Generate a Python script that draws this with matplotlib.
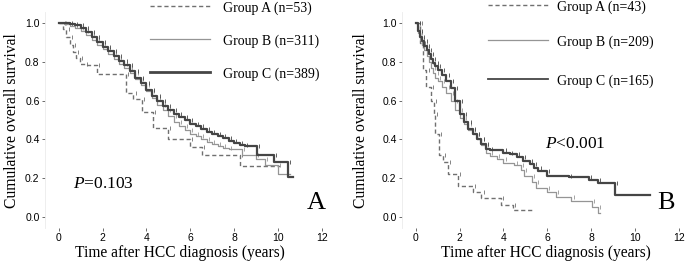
import numpy as np
import matplotlib
matplotlib.use("Agg")
import matplotlib.pyplot as plt

# ---- panel A (step curves) ----
a_t = [0, 0.2, 0.35, 0.5, 0.65, 0.8, 0.95, 1.2, 1.73, 3.07, 3.41, 3.79, 4.3, 5.0, 5.99, 6.52, 8.27]
a_s = [1.0, 0.97, 0.93, 0.89, 0.85, 0.82, 0.79, 0.785, 0.74, 0.64, 0.61, 0.54, 0.46, 0.40, 0.36, 0.32, 0.26]
a_end = 10.1

b_t = [0, 0.25, 0.5, 0.75, 1.0, 1.25, 1.5, 1.75, 2.0, 2.25, 2.5, 2.75, 3.0, 3.25, 3.5, 3.75,
       4.0, 4.25, 4.5, 4.75, 5.0, 5.25, 5.5, 5.75, 6.0, 6.25, 6.5, 6.75, 7.0, 7.25, 7.5, 7.75,
       8.35, 9.0, 9.4, 10.0]
b_s = [1.0, 0.995, 0.985, 0.975, 0.96, 0.94, 0.915, 0.89, 0.865, 0.84, 0.815, 0.79, 0.77, 0.745, 0.71, 0.68,
       0.65, 0.615, 0.58, 0.55, 0.52, 0.49, 0.47, 0.45, 0.43, 0.415, 0.40, 0.385, 0.375, 0.365, 0.355, 0.35,
       0.32, 0.30, 0.27, 0.22]
b_end = 10.55

c_t = [0, 0.5, 0.75, 1.0, 1.25, 1.5, 1.75, 2.0, 2.25, 2.5, 2.75, 3.0, 3.25, 3.5, 3.75,
       4.0, 4.25, 4.5, 4.75, 5.0, 5.25, 5.5, 5.75, 6.0, 6.25, 6.5, 6.75, 7.0, 7.25, 7.5, 7.75,
       8.0, 8.25, 8.5, 9.03, 9.8, 10.45]
c_s = [1.0, 0.995, 0.99, 0.975, 0.955, 0.93, 0.905, 0.88, 0.855, 0.83, 0.805, 0.785, 0.755, 0.72, 0.69,
       0.655, 0.625, 0.60, 0.575, 0.55, 0.53, 0.515, 0.50, 0.48, 0.468, 0.455, 0.44, 0.43, 0.415, 0.405, 0.39,
       0.38, 0.372, 0.365, 0.32, 0.285, 0.207]
c_end = 10.7

# ---- panel B ----
a2_t = [0, 0.18, 0.33, 0.49, 0.68, 0.84, 0.87, 1.05, 1.25, 1.47, 1.93, 2.6, 3.0, 3.9, 4.45]
a2_s = [1.0, 0.90, 0.76, 0.67, 0.60, 0.53, 0.43, 0.32, 0.285, 0.22, 0.16, 0.13, 0.095, 0.06, 0.035]
a2_end = 5.35

b2_t = [0, 0.1, 0.2, 0.3, 0.4, 0.5, 0.6, 0.7, 0.8, 0.9, 1.0, 1.2, 1.4, 1.6, 1.8, 2.0, 2.2, 2.4,
        2.6, 2.8, 3.0, 3.2, 3.4, 3.7, 4.0, 4.5, 4.8, 4.95, 5.3, 5.5, 6.0, 6.4, 7.1, 8.05, 8.3]
b2_s = [1.0, 0.95, 0.92, 0.89, 0.86, 0.83, 0.80, 0.77, 0.745, 0.72, 0.70, 0.67, 0.64, 0.60, 0.55, 0.51, 0.48, 0.45,
        0.43, 0.40, 0.37, 0.33, 0.315, 0.30, 0.28, 0.265, 0.24, 0.21, 0.18, 0.15, 0.13, 0.10, 0.08, 0.05, 0.02]
b2_end = 8.4

c2_t = [0, 0.1, 0.2, 0.3, 0.4, 0.5, 0.6, 0.7, 0.8, 0.9, 1.0, 1.2, 1.4, 1.6, 1.8, 2.0, 2.2, 2.4,
        2.6, 2.8, 3.0, 3.2, 3.4, 4.0, 4.3, 4.6, 4.9, 5.2, 5.4, 5.6, 6.0, 7.0, 7.9, 8.3, 9.07]
c2_s = [1.0, 0.96, 0.93, 0.91, 0.885, 0.86, 0.84, 0.815, 0.795, 0.78, 0.76, 0.735, 0.70, 0.665, 0.60, 0.53, 0.49, 0.455,
        0.43, 0.40, 0.375, 0.35, 0.345, 0.33, 0.325, 0.31, 0.29, 0.275, 0.25, 0.235, 0.21, 0.205, 0.19, 0.175, 0.112]
c2_end = 10.7

labels_a = ["Group A (n=53)", "Group B (n=311)", "Group C (n=389)"]
labels_b = ["Group A (n=43)", "Group B (n=209)", "Group C (n=165)"]

plt.rcParams['font.family'] = ['Liberation Serif', 'DejaVu Serif']
plt.rcParams['mathtext.fontset'] = 'custom'
plt.rcParams['mathtext.rm'] = 'Liberation Serif'
plt.rcParams['mathtext.it'] = 'Liberation Serif:italic'

W, H = 696, 264
fig = plt.figure(figsize=(W / 100, H / 100), dpi=100)


def fx(px):
    return px / W


def fy(py):
    return (H - py) / H


def make_ax(x0px, xlab_cx, ylab_cx):
    # t=0 at x0px, 21.92 px per year; S=0 at 216.7px, 193.3 px per unit
    ppy, ppu = 21.92, 193.3
    xl, xr = -0.62, 12.6
    yb, yt = -0.058, 1.06
    left = (x0px + xl * ppy) / W
    width = (xr - xl) * ppy / W
    bottom = (H - (216.7 - yb * ppu)) / H
    height = (yt - yb) * ppu / H
    ax = fig.add_axes([left, bottom, width, height])
    ax.set_xlim(xl, xr)
    ax.set_ylim(yb, yt)
    for s in ['top', 'right', 'bottom']:
        ax.spines[s].set_visible(False)
    ax.spines['left'].set_color('#ebebeb')
    ax.spines['left'].set_linewidth(0.6)
    ax.set_xticks([0, 2, 4, 6, 8, 10, 12])
    ax.set_yticks([0.0, 0.2, 0.4, 0.6, 0.8, 1.0])
    ax.set_yticklabels(['0.0', '0.2', '0.4', '0.6', '0.8', '1.0'])
    ax.tick_params(length=2.5, width=0.6, color='#555555', labelsize=7.5, pad=1.5)
    for lab in ax.get_xticklabels() + ax.get_yticklabels():
        lab.set_fontfamily('Liberation Sans')
    fig.text(fx(xlab_cx), fy(253), 'Time after HCC diagnosis (years)', fontsize=11.2,
             ha='center', va='center')
    fig.text(fx(ylab_cx), fy(121), 'Cumulative overall survival', fontsize=11.3,
             ha='center', va='center', rotation=90)
    return ax


def km(ax, t, s, end, **kw):
    tt = list(t) + [end]
    ss = list(s) + [s[-1]]
    ax.step(tt, ss, where='post', **kw)
    # censor ticks along the curve
    cens = np.array(tt[1:-1]) + 0.1
    vals = [s[i] for i in range(len(cens))]
    ax.plot(cens, vals, ls='none', marker='|', ms=2.5, mew=0.6,
            color=kw.get('color', 'k'))


styles = [
    dict(color='#707070', lw=1.0, ls=(0, (3, 2))),
    dict(color='#959595', lw=0.9, ls='-'),
    dict(color='#454545', lw=1.6, ls='-'),
]

ax1 = make_ax(58.7, 180, 12)
for (t, s, e), st in zip([(a_t, a_s, a_end), (b_t, b_s, b_end), (c_t, c_s, c_end)], styles):
    km(ax1, t, s, e, **st)
ax1.text(0.65, 0.17, '$\\mathit{P}$=0.103', fontsize=12.5, va='center', ha='left')
ax1.text(11.3, 0.07, 'A', fontsize=19, va='center', ha='left')

ax2 = make_ax(415.7, 546, 361)
for (t, s, e), st in zip([(a2_t, a2_s, a2_end), (b2_t, b2_s, b2_end), (c2_t, c2_s, c2_end)], styles):
    km(ax2, t, s, e, **st)
ax2.text(5.9, 0.375, '$\\mathit{P}$<0.001', fontsize=12.5, va='center', ha='left')
ax2.text(11.0, 0.07, 'B', fontsize=19, va='center', ha='left')

# legends (drawn in figure pixels)
legend_pos = [
    (150, 210, 223, [6, 39, 72], labels_a, [2.0]),
    (488, 548, 557, [5, 40, 79], labels_b, [1.3]),
]
for x0, x1, xt, ys, labs, lwc in legend_pos:
    for i, (lab, st) in enumerate(zip(labs, styles)):
        st = dict(st)
        if i == 2:
            st['lw'] = lwc[0]
        fig.add_artist(plt.Line2D([fx(x0), fx(x1)], [fy(ys[i]), fy(ys[i])],
                                  transform=fig.transFigure, **st))
        fig.text(fx(xt), fy(ys[i] + 2.5), lab, fontsize=10, va='center', ha='left')

fig.savefig('out.png', dpi=100)
